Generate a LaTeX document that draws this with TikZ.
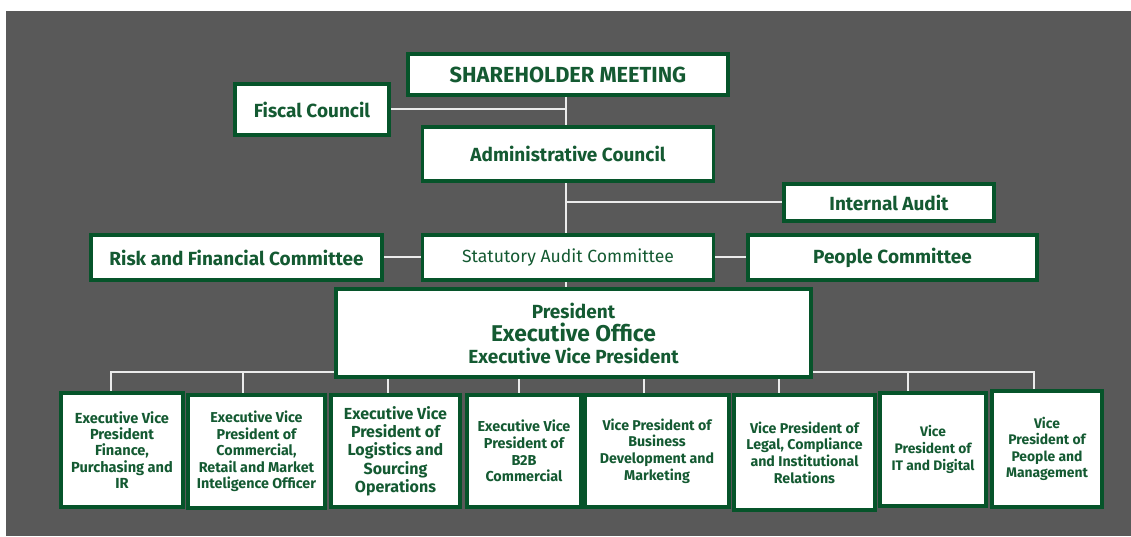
\documentclass[tikz,border=0pt]{standalone}
\usepackage{fontspec}
\setmainfont{Fira Sans}
\usetikzlibrary{positioning,calc}

\definecolor{slate}{RGB}{89,89,89}
\definecolor{boardgreen}{RGB}{6,84,42}
\definecolor{inkgreen}{RGB}{20,90,50}
\definecolor{linkgray}{RGB}{235,235,235}

\pgfdeclarelayer{back}
\pgfsetlayers{back,main}

\begin{document}
\begin{tikzpicture}[
  x=1pt, y=1pt,
  box/.style={draw=boardgreen, line width=3.5pt, fill=white, text=inkgreen, inner sep=0pt, align=center, font=\bfseries\fontsize{19}{22}\selectfont},
  unit/.style={box, font=\bfseries\fontsize{14.2}{16.6}\selectfont},
  link/.style={draw=linkgray, line width=2pt}
]
\begin{pgfonlayer}{back}
  \fill[white] (0,0) rectangle (1131,536);
  \fill[slate] (6,0) rectangle (1131,525);
\end{pgfonlayer}

% board and councils
\node[box, minimum width=320pt, minimum height=41pt, font=\bfseries\fontsize{21.8}{24}\selectfont] (share) at (568,461.5) {SHAREHOLDER MEETING};
\node[box, minimum width=154pt, minimum height=51pt] (fiscal) at (312,426.5) {Fiscal Council};
\node[box, minimum width=291pt, minimum height=54pt] (admin) at (568,382) {Administrative Council};
\node[box, minimum width=210pt, minimum height=37pt] (audit) at (889,333.5) {Internal Audit};
\node[box, minimum width=291pt, minimum height=45pt] (risk) at (236.5,278.5) {Risk and Financial Committee};
\node[box, minimum width=291pt, minimum height=45pt, font=\fontsize{17.6}{21}\selectfont] (stat) at (568,278.5) {Statutory Audit Committee};
\node[box, minimum width=289pt, minimum height=45pt] (people) at (892.5,278.5) {People Committee};
\node[box, minimum width=475pt, minimum height=88pt] (pres) at (573.5,203)
  {President\\[1pt]{\fontsize{22.8}{25}\selectfont Executive Office}\\Executive Vice President};

% vice presidencies
\node[unit, minimum width=122pt, minimum height=114pt, font=\bfseries\fontsize{14.6}{16.3}\selectfont] (fin) at (122,86)
  {Executive Vice\\President\\Finance,\\Purchasing and\\IR};
\node[unit, minimum width=137pt, minimum height=113pt, font=\bfseries\fontsize{14.3}{16.5}\selectfont] (com) at (256.5,84.5)
  {Executive Vice\\President of\\Commercial,\\Retail and Market\\Inteligence Officer};
\node[unit, minimum width=129pt, minimum height=112pt, font=\bfseries\fontsize{16}{18.3}\selectfont] (log) at (395.5,85)
  {Executive Vice\\President of\\Logistics and\\Sourcing\\Operations};
\node[unit, minimum width=114pt, minimum height=112pt, font=\bfseries\fontsize{14.4}{16.7}\selectfont] (b2b) at (524,85)
  {Executive Vice\\President of\\B2B\\Commercial};
\node[unit, minimum width=144pt, minimum height=112pt] (bdm) at (657,85)
  {Vice President of\\Business\\Development and\\Marketing};
\node[unit, minimum width=141pt, minimum height=115pt] (leg) at (804.5,83.5)
  {Vice President of\\Legal, Compliance\\and Institutional\\Relations};
\node[unit, minimum width=106pt, minimum height=113pt, font=\bfseries\fontsize{13.8}{16.7}\selectfont] (it) at (933,86.5)
  {Vice\\President of\\IT and Digital};
\node[unit, minimum width=110pt, minimum height=116pt, font=\bfseries\fontsize{13.9}{16.3}\selectfont] (ppl) at (1047,87)
  {Vice\\President of\\People and\\Management};

\coordinate (trunk) at ([xshift=-2pt]share.south);
\coordinate (bus) at ([yshift=6.5pt]pres.south);

\begin{pgfonlayer}{back}
  \draw[link] (trunk) -- (trunk |- pres.north);
  \draw[link] (fiscal.east) -- (fiscal.east -| trunk);
  \draw[link] (audit.west) -- (audit.west -| trunk);
  \draw[link] (risk) -- (stat);
  \draw[link] (stat) -- (people);
  \draw[link] ([xshift=-11pt]fin.north) |- (bus) -| ([xshift=-13pt]ppl.north);
  \foreach \n/\dx in {com/-13.5, log/-7.5, b2b/-5, bdm/-13, leg/-25.5, it/-25}
    \draw[link] ([xshift=\dx pt]\n.north) -- ([xshift=\dx pt]\n.north |- bus);
\end{pgfonlayer}
\end{tikzpicture}
\end{document}
